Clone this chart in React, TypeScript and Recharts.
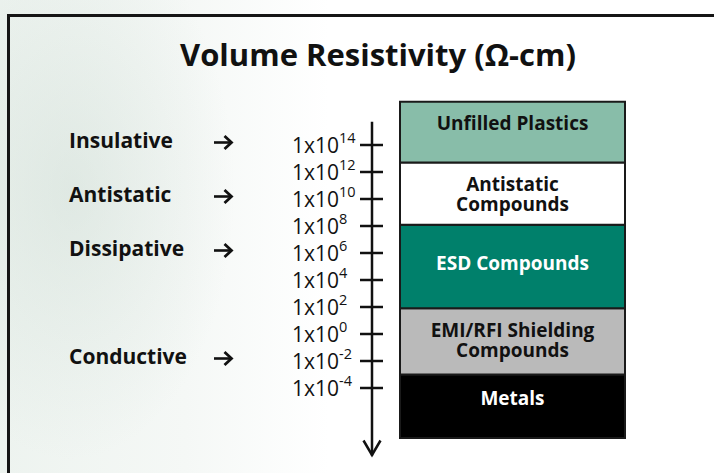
import { Bar, BarChart, LabelList, XAxis, YAxis } from "recharts"

// resistivity bands, exponents of 10 (ohm-cm), bottom to top
const materials = ["Metals", "EMI/RFI Shielding Compounds", "ESD Compounds", "Antistatic Compounds", "Unfilled Plastics"]
const materialLines = [["Metals"], ["EMI/RFI Shielding", "Compounds"], ["ESD Compounds"], ["Antistatic", "Compounds"], ["Unfilled Plastics"]]
const lowExp = [-7.7, -3, 1.9, 8.1, 12.7]
const highExp = [-3, 1.9, 8.1, 12.7, 17.2]

// axis
const tickBase = "1x10"
const tickExps = [14, 12, 10, 8, 6, 4, 2, 0, -2, -4]

// classes on the left
const classNames = ["Insulative", "Antistatic", "Dissipative", "Conductive"]
const classExps = [14, 10, 6, -2]

const fills = ["#000000", "#bababa", "#00806b", "#ffffff", "#88bda9"]
const textColors = ["#ffffff", "#111111", "#ffffff", "#111111", "#111111"]
const labelTop = [23, 22, 38, 21, 21]

const FONT = "'Open Sans', sans-serif"

const row: Record<string, any> = { name: "Volume Resistivity" }
materials.forEach((_, i) => {
  row[`seg${i}`] = [lowExp[i], highExp[i]]
})
const data = [row]

function ResTick(props: any) {
  const { x, y, payload } = props
  return (
    <g>
      <line x1={x - 12} x2={x + 11} y1={y} y2={y} stroke="#111" strokeWidth={2.5} />
      <text x={x - 80} y={y + 7.5} textAnchor="start" fontFamily={FONT} fontSize={21} fill="#111">
        {tickBase}
        <tspan dy={-10} fontSize={14.5}>{String(payload.value)}</tspan>
      </text>
    </g>
  )
}

function ClassTick(props: any) {
  const { y, payload } = props
  const name = classNames[classExps.indexOf(payload.value)]
  const ay = y - 2.5
  return (
    <g>
      <text x={69} y={y + 3} fontFamily={FONT} fontWeight={700} fontSize={21} fill="#111">{name}</text>
      <line x1={214} x2={231} y1={ay} y2={ay} stroke="#111" strokeWidth={2.6} />
      <path d={`M224.5,${ay - 6.5} L231.5,${ay} L224.5,${ay + 6.5}`} fill="none" stroke="#111" strokeWidth={2.8} />
    </g>
  )
}

function segmentLabel(i: number) {
  return (props: any) => {
    const { x, y, width } = props
    const cx = x + width / 2
    return (
      <text textAnchor="middle" fontFamily={FONT} fontWeight={700} fontSize={19} fill={textColors[i]}>
        {materialLines[i].map((line, k) => (
          <tspan key={k} x={cx} y={y + labelTop[i] + 7 + k * 20}>
            {line}
          </tspan>
        ))}
      </text>
    )
  }
}

export default function App() {
  return (
    <div
      style={{
        position: "absolute",
        left: 0,
        top: 0,
        width: 714,
        height: 473,
        overflow: "hidden",
        background:
          "radial-gradient(ellipse 220px 360px at 70px 190px, rgba(200,216,207,0.42), rgba(255,255,255,0) 75%), linear-gradient(90deg, #edf3ef 0%, #f5f8f6 26%, #ffffff 46%)",
      }}
    >
      <div
        style={{
          position: "absolute",
          left: 7,
          top: 14,
          width: 800,
          height: 600,
          borderTop: "3px solid #151515",
          borderLeft: "3px solid #151515",
        }}
      />
      <svg width={714} height={473} style={{ position: "absolute", left: 0, top: 0 }}>
        <defs>
          <marker id="axisArrow" markerUnits="userSpaceOnUse" markerWidth={22} markerHeight={20} refX={11} refY={17} orient="0">
            <path d="M2.5,2 L11,16.5 L19.5,2" fill="none" stroke="#111" strokeWidth={2.5} />
          </marker>
        </defs>
        <text x={378} y={66} textAnchor="middle" fontFamily={FONT} fontWeight={700} fontSize={31} fill="#111">
          Volume Resistivity (Ω-cm)
        </text>
      </svg>
      <div style={{ position: "absolute", left: 0, top: 0 }}>
        <BarChart width={714} height={473} data={data} margin={{ top: 97.75, right: 61, bottom: 17.5, left: 0 }} barGap={-225}>
          <XAxis dataKey="name" hide />
          <YAxis
            yAxisId="a"
            type="number"
            domain={[-9, 17.5]}
            allowDataOverflow
            ticks={tickExps}
            interval={0}
            width={100}
            tickSize={0}
            tickMargin={0}
            tickLine={false}
            axisLine={{ stroke: "#111", strokeWidth: 2.5, strokeDasharray: "0 24 400", markerEnd: "url(#axisArrow)" }}
            tick={<ResTick />}
          />
          <YAxis
            yAxisId="b"
            type="number"
            domain={[-9, 17.5]}
            allowDataOverflow
            ticks={classExps}
            interval={0}
            width={272}
            tickSize={0}
            tickMargin={0}
            tickLine={false}
            axisLine={false}
            tick={<ClassTick />}
          />
          {materials.map((m, i) => (
            <Bar
              key={m}
              name={m}
              yAxisId="a"
              dataKey={`seg${i}`}
              fill={fills[i]}
              stroke="#1a1a1a"
              strokeWidth={2}
              barSize={225}
              isAnimationActive={false}
            >
              <LabelList content={segmentLabel(i)} />
            </Bar>
          ))}
        </BarChart>
      </div>
    </div>
  )
}
